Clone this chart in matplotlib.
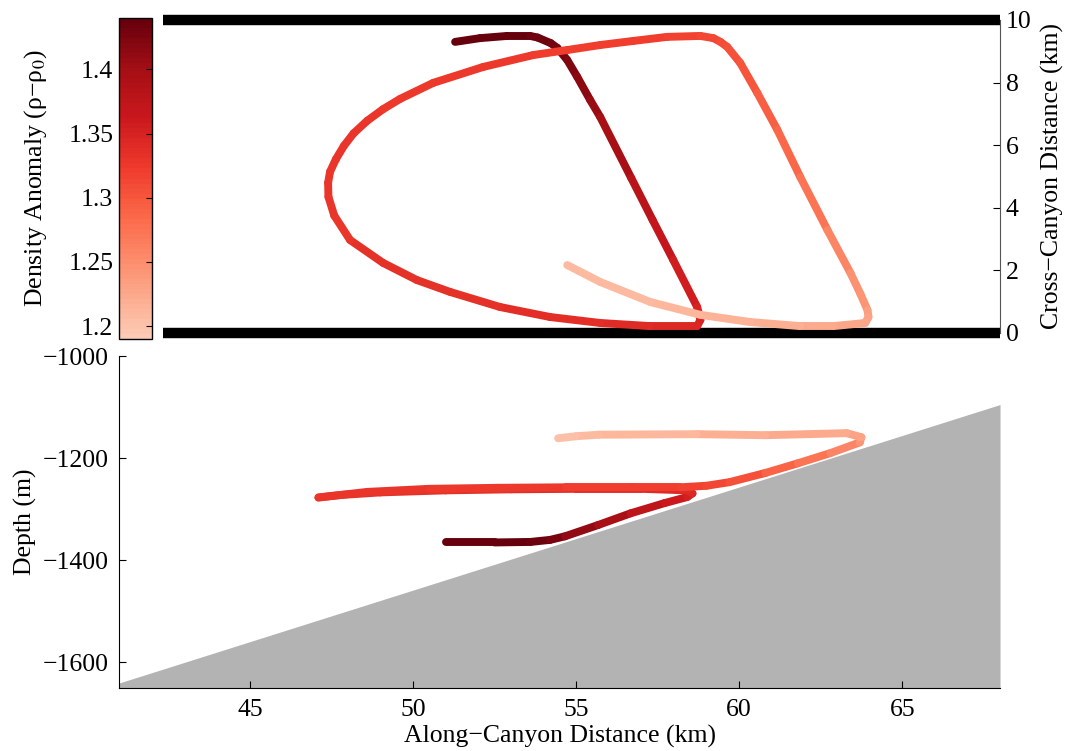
import numpy as np
import matplotlib
matplotlib.use("Agg")
import matplotlib.pyplot as plt
from matplotlib.collections import LineCollection
from matplotlib.colors import ListedColormap, Normalize
from matplotlib.cm import ScalarMappable

plt.rcParams["font.family"] = ["Liberation Serif", "DejaVu Serif"]
plt.rcParams["mathtext.fontset"] = "stix"
plt.rcParams["font.size"] = 18.5

# plan view (along-canyon km, cross-canyon km, density anomaly)
plan_x = [51.14, 51.91, 52.75, 53.46, 53.69, 54.10, 54.30, 54.61, 54.92, 55.32,
          55.63, 56.59, 57.25, 57.89, 58.63, 58.73, 58.63,
          57.18, 55.63, 54.08, 52.53, 50.99, 49.96, 48.91, 47.89, 47.40, 47.22,
          47.21, 47.27, 47.45, 47.70, 48.00, 48.42, 48.91, 49.44, 50.46, 52.01,
          53.56, 54.61, 55.63, 56.65, 57.70, 58.73, 59.13, 59.35, 59.56, 59.96,
          60.49, 61.11, 61.82, 62.66, 63.37, 63.68, 63.90, 63.93, 63.83,
          62.84, 61.82, 60.27, 58.73, 57.18, 55.63, 54.61]
plan_y = [9.30, 9.42, 9.49, 9.49, 9.44, 9.26, 9.11, 8.72, 8.18, 7.44,
          6.90, 4.95, 3.61, 2.33, 0.83, 0.42, 0.22,
          0.22, 0.32, 0.51, 0.83, 1.31, 1.69, 2.24, 2.97, 3.75, 4.35,
          4.80, 5.15, 5.55, 5.98, 6.38, 6.78, 7.15, 7.48, 7.99, 8.50,
          8.88, 9.04, 9.20, 9.33, 9.46, 9.49, 9.42, 9.30, 9.14, 8.63,
          7.67, 6.49, 4.98, 3.29, 1.92, 1.25, 0.73, 0.51, 0.32,
          0.22, 0.22, 0.35, 0.58, 0.99, 1.63, 2.17]
plan_rho = [1.440, 1.440, 1.438, 1.436, 1.435, 1.432, 1.430, 1.426, 1.418, 1.410,
            1.402, 1.385, 1.375, 1.362, 1.352, 1.348, 1.345,
            1.342, 1.338, 1.336, 1.334, 1.333, 1.333, 1.332, 1.331, 1.330, 1.330,
            1.330, 1.329, 1.329, 1.328, 1.328, 1.327, 1.327, 1.326, 1.325, 1.324,
            1.323, 1.322, 1.321, 1.320, 1.319, 1.316, 1.313, 1.311, 1.309, 1.304,
            1.298, 1.292, 1.280, 1.265, 1.252, 1.245, 1.238, 1.234, 1.230,
            1.226, 1.222, 1.218, 1.214, 1.210, 1.207, 1.205]

# section view (along-canyon km, depth m, density anomaly)
sect_x = [51.0, 52.5, 53.6, 54.2, 54.66, 55.67, 56.67, 57.71, 58.41, 58.57, 58.41,
          57.0, 55.0, 53.0, 51.0, 49.0, 47.8, 47.1,
          47.5, 48.6, 50.5, 52.6, 54.7, 56.7, 58.2, 59.0,
          59.7, 60.8, 61.8, 62.8, 63.7, 63.75,
          63.3, 60.8, 58.7, 55.7, 55.0, 54.45]
sect_z = [-1365, -1365, -1364, -1360, -1353, -1331, -1308, -1288, -1276, -1269, -1263,
          -1260, -1260, -1261, -1263, -1267, -1272, -1277,
          -1274, -1266, -1260, -1258, -1257, -1257, -1257, -1254,
          -1247, -1229, -1210, -1190, -1169, -1159,
          -1151, -1155, -1153, -1154, -1157, -1161]
sect_rho = [1.440, 1.440, 1.437, 1.432, 1.422, 1.402, 1.385, 1.368, 1.355, 1.348, 1.343,
            1.338, 1.336, 1.334, 1.333, 1.332, 1.331, 1.330,
            1.329, 1.328, 1.326, 1.324, 1.322, 1.320, 1.318, 1.315,
            1.309, 1.298, 1.282, 1.266, 1.248, 1.235,
            1.228, 1.220, 1.215, 1.208, 1.206, 1.205]

slope_x = [41, 68]
slope_z = [-1640, -1095]

rho_min, rho_max = 1.19, 1.44
cmap = ListedColormap(plt.get_cmap("Reds")(np.linspace(0.2, 1.0, 64)))
norm = Normalize(rho_min, rho_max)


def track(ax, x, y, rho):
    pts = np.column_stack([x, y])
    segs = np.stack([pts[:-1], pts[1:]], axis=1)
    r = np.asarray(rho)
    lc = LineCollection(segs, cmap=cmap, norm=norm, linewidths=5.7,
                        capstyle="round", joinstyle="round", zorder=3)
    lc.set_array((r[:-1] + r[1:]) / 2)
    ax.add_collection(lc)


fig = plt.figure(figsize=(10.65, 7.51), dpi=100)

# plan view
ax1 = fig.add_axes([0.153, 0.5566, 0.786, 0.4168])
track(ax1, plan_x, plan_y, plan_rho)
ax1.set_xlim(42.1, 68)
ax1.set_ylim(0, 10)
for w in [0, 10]:
    ax1.axhline(w, color="k", lw=7.5, solid_capstyle="butt", clip_on=False, zorder=2)
for s in ["top", "bottom", "left"]:
    ax1.spines[s].set_visible(False)
ax1.spines["right"].set_color("#555555")
ax1.set_xticks([])
ax1.yaxis.tick_right()
ax1.yaxis.set_label_position("right")
ax1.set_yticks([0, 2, 4, 6, 8, 10])
ax1.tick_params(axis="y", direction="in", length=5, pad=4)
ax1.set_ylabel("Cross\u2212Canyon Distance (km)", labelpad=7)

# colorbar
cax = fig.add_axes([0.1117, 0.5486, 0.031, 0.4274])
cb = fig.colorbar(ScalarMappable(norm=norm, cmap=cmap), cax=cax)
cb.set_ticks([1.2, 1.25, 1.3, 1.35, 1.4])
cb.set_ticklabels(["1.2", "1.25", "1.3", "1.35", "1.4"])
cax.yaxis.set_ticks_position("right")
cax.tick_params(axis="y", direction="in", length=4, right=True, left=False,
                labelright=False, labelleft=True, pad=4)
cax.yaxis.set_label_position("left")
cax.set_ylabel("Density Anomaly (\u03c1\u2212\u03c1$_0$)", labelpad=14)
cb.outline.set_linewidth(1.0)

# section view
ax2 = fig.add_axes([0.1122, 0.0839, 0.8268, 0.442])
ax2.fill_between(slope_x, slope_z, -1650, color="#b3b3b3", lw=0, zorder=1)
track(ax2, sect_x, sect_z, sect_rho)
ax2.set_xlim(41, 68)
ax2.set_ylim(-1650, -1000)
ax2.spines["top"].set_visible(False)
ax2.spines["right"].set_visible(False)
ax2.set_xticks([45, 50, 55, 60, 65])
ax2.set_yticks([-1600, -1400, -1200, -1000])
ax2.tick_params(direction="in", length=5, pad=8)
ax2.set_xlabel("Along\u2212Canyon Distance (km)", labelpad=3)
ax2.set_ylabel("Depth (m)", labelpad=4)

fig.savefig("out.png", dpi=100)
